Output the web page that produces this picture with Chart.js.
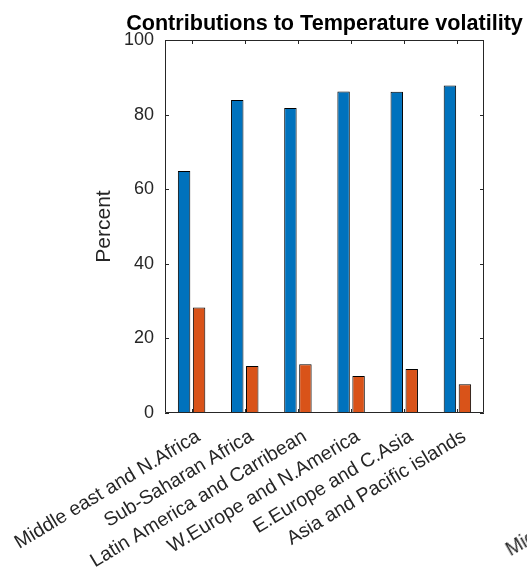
<!DOCTYPE html>
<html>
<head>
<meta charset="utf-8">
<script src="https://cdn.jsdelivr.net/npm/chart.js@4.4.1/dist/chart.umd.min.js"></script>
<style>
  html, body { margin: 0; padding: 0; background: #fff; overflow: hidden; }
  #wrap { position: relative; width: 527px; height: 573px; overflow: hidden; }
  #next { position: absolute; left: 512px; top: 540px; font: 19.5px 'Liberation Sans', Arial, sans-serif;
          line-height: 19px; color: #262626; white-space: nowrap; transform: rotate(-30deg); transform-origin: left bottom; }
</style>
</head>
<body>
<div id="wrap">
  <canvas id="barChart" width="527" height="573"></canvas>
  <div id="next">Middle east and N.Africa</div>
</div>
<script>
// Données
const regions = ['Middle east and N.Africa', 'Sub-Saharan Africa', 'Latin America and Carribean',
  'W.Europe and N.America', 'E.Europe and C.Asia', 'Asia and Pacific islands'];
const shareFirst = [64.9, 83.9, 81.8, 86.2, 86.1, 87.8];
const shareSecond = [28.3, 12.6, 13.1, 9.9, 11.8, 7.7];
const yTicks = [0, 20, 40, 60, 80, 100];
const chartTitle = 'Contributions to Temperature volatility';

const axisColor = '#262626';
const fontFamily = "'Liberation Sans', Arial, Helvetica, sans-serif";

// boîte, graduations vers l'intérieur et titre centré sur les axes (style MATLAB)
const boxPlugin = {
  id: 'box',
  afterDraw(chart) {
    const { ctx, chartArea: a, scales } = chart;
    const len = 4;
    ctx.save();
    ctx.strokeStyle = axisColor;
    ctx.lineWidth = 1;
    ctx.beginPath();
    ctx.rect(a.left + 0.5, a.top + 0.5, a.right - a.left - 1, a.bottom - a.top - 1);
    regions.forEach((r, i) => {
      const x = Math.round(scales.x.getPixelForValue(i)) + 0.5;
      ctx.moveTo(x, a.bottom); ctx.lineTo(x, a.bottom - len);
      ctx.moveTo(x, a.top); ctx.lineTo(x, a.top + len);
    });
    yTicks.forEach(v => {
      const y = Math.round(scales.y.getPixelForValue(v)) + 0.5;
      ctx.moveTo(a.left, y); ctx.lineTo(a.left + len, y);
      ctx.moveTo(a.right, y); ctx.lineTo(a.right - len, y);
    });
    ctx.stroke();

    ctx.fillStyle = '#000';
    ctx.font = 'bold 21.6px ' + fontFamily;
    ctx.textAlign = 'center';
    ctx.textBaseline = 'alphabetic';
    ctx.fillText(chartTitle, (a.left + a.right) / 2, a.top - 10);
    ctx.restore();
  }
};

const barCtx = document.getElementById('barChart').getContext('2d');
new Chart(barCtx, {
  type: 'bar',
  data: {
    labels: regions,
    datasets: [{
      label: 'Series 1',
      data: shareFirst,
      backgroundColor: '#0072BD',
      borderColor: '#000',
      borderWidth: 1,
      categoryPercentage: 0.564,
      barPercentage: 0.83
    }, {
      label: 'Series 2',
      data: shareSecond,
      backgroundColor: '#D95319',
      borderColor: '#000',
      borderWidth: 1,
      categoryPercentage: 0.564,
      barPercentage: 0.83
    }]
  },
  options: {
    responsive: false,
    animation: false,
    devicePixelRatio: 1,
    layout: {
      padding: { left: 85, right: 43, top: 40, bottom: 0 }
    },
    plugins: {
      legend: { display: false },
      tooltip: { enabled: false },
      title: { display: false }
    },
    scales: {
      x: {
        offset: true,
        grid: { display: false, drawTicks: false },
        border: { display: false },
        ticks: {
          color: axisColor,
          autoSkip: false,
          minRotation: 31,
          maxRotation: 31,
          padding: 12,
          labelOffset: 7,
          font: { family: fontFamily, size: 19.5 }
        },
        afterFit: scale => {
          scale.height = 160;
          scale.paddingLeft = 0;
          scale.paddingRight = 0;
        }
      },
      y: {
        min: 0,
        max: 100,
        grid: { display: false, drawTicks: false },
        border: { display: false },
        afterBuildTicks: scale => { scale.ticks = yTicks.map(v => ({ value: v })); },
        ticks: {
          color: axisColor,
          padding: 11,
          font: { family: fontFamily, size: 18 }
        },
        title: {
          display: true,
          text: 'Percent',
          color: axisColor,
          font: { family: fontFamily, size: 21 },
          padding: { top: 7, bottom: 0 }
        },
        afterFit: scale => { scale.width = 80; }
      }
    }
  },
  plugins: [boxPlugin]
});
</script>
</body>
</html>
